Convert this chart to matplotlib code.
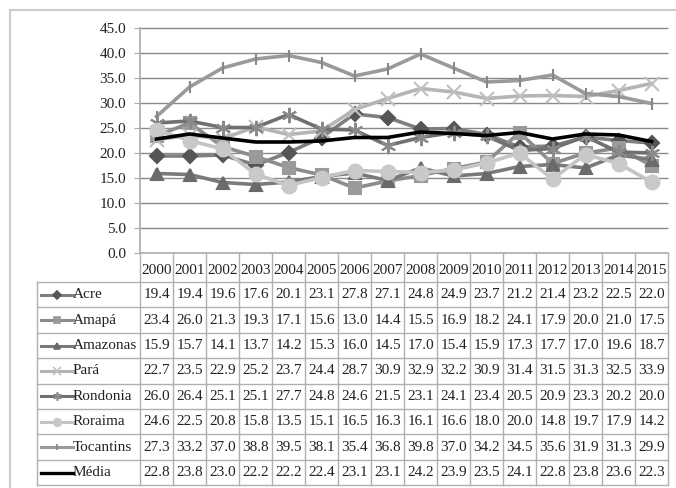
import matplotlib
matplotlib.use("Agg")
import matplotlib.pyplot as plt
from matplotlib import transforms
from matplotlib.lines import Line2D

plt.rcParams['font.family'] = ['Liberation Serif', 'DejaVu Serif']

years = ["2000", "2001", "2002", "2003", "2004", "2005", "2006", "2007",
         "2008", "2009", "2010", "2011", "2012", "2013", "2014", "2015"]

acre = [19.4, 19.4, 19.6, 17.6, 20.1, 23.1, 27.8, 27.1, 24.8, 24.9, 23.7, 21.2, 21.4, 23.2, 22.5, 22.0]
amapa = [23.4, 26.0, 21.3, 19.3, 17.1, 15.6, 13.0, 14.4, 15.5, 16.9, 18.2, 24.1, 17.9, 20.0, 21.0, 17.5]
amazonas = [15.9, 15.7, 14.1, 13.7, 14.2, 15.3, 16.0, 14.5, 17.0, 15.4, 15.9, 17.3, 17.7, 17.0, 19.6, 18.7]
para = [22.7, 23.5, 22.9, 25.2, 23.7, 24.4, 28.7, 30.9, 32.9, 32.2, 30.9, 31.4, 31.5, 31.3, 32.5, 33.9]
rondonia = [26.0, 26.4, 25.1, 25.1, 27.7, 24.8, 24.6, 21.5, 23.1, 24.1, 23.4, 20.5, 20.9, 23.3, 20.2, 20.0]
roraima = [24.6, 22.5, 20.8, 15.8, 13.5, 15.1, 16.5, 16.3, 16.1, 16.6, 18.0, 20.0, 14.8, 19.7, 17.9, 14.2]
tocantins = [27.3, 33.2, 37.0, 38.8, 39.5, 38.1, 35.4, 36.8, 39.8, 37.0, 34.2, 34.5, 35.6, 31.9, 31.3, 29.9]
media = [22.8, 23.8, 23.0, 22.2, 22.2, 22.4, 23.1, 23.1, 24.2, 23.9, 23.5, 24.1, 22.8, 23.8, 23.6, 22.3]

y_ticks = [0, 5, 10, 15, 20, 25, 30, 35, 40, 45]

series_names = ["Acre", "Amapá", "Amazonas", "Pará", "Rondonia", "Roraima", "Tocantins", "Média"]
series_values = [acre, amapa, amazonas, para, rondonia, roraima, tocantins, media]

# style: (line color, marker, marker face, marker edge, marker size, line width)
styles = [
    ("#7f7f7f", "D", "#555555", "#555555", 7, 2.6),
    ("#8c8c8c", "s", "#9a9a9a", "#9a9a9a", 9, 2.6),
    ("#7a7a7a", "^", "#6a6a6a", "#6a6a6a", 9, 2.6),
    ("#b5b5b5", "x", "#c0c0c0", "#c0c0c0", 10, 2.6),
    ("#707070", (6, 2, 0), "#8a8a8a", "#8a8a8a", 11, 2.6),
    ("#c4c4c4", "o", "#c9c9c9", "#c9c9c9", 10, 2.6),
    ("#9a9a9a", "|", "#888888", "#888888", 9, 2.6),
    ("#000000", None, "#000000", "#000000", 0, 2.6),
]

W, H = 676, 488
fig = plt.figure(figsize=(W / 100, H / 100), dpi=100)

def fx(px):
    return px / W

def fy(py):
    return 1 - py / H

FS = 11
ax_left, ax_right, ax_top, ax_bottom = 140, 668, 28, 253
ax = fig.add_axes([fx(ax_left), fy(ax_bottom), fx(ax_right - ax_left), (ax_bottom - ax_top) / H])

x = list(range(len(years)))
for name, vals, st in zip(series_names, series_values, styles):
    lc, mk, mf, me, ms, lw = st
    ax.plot(x, vals, color=lc, lw=lw, marker=mk, markersize=ms,
            markerfacecolor=mf, markeredgecolor=me, markeredgewidth=1.5,
            zorder=3 if name != "Média" else 4, clip_on=False)

ax.set_xlim(-0.5, len(years) - 0.5)
ax.set_ylim(0, 45)
ax.set_yticks(y_ticks)
ax.set_yticklabels([f"{v:.1f}" for v in y_ticks], fontsize=FS, color="#222222")
ax.set_xticks([])
ax.hlines(y_ticks[1:], -0.5, len(years) - 0.5, colors="#8a8a8a", lw=1, zorder=1, clip_on=False)
for s in ["top", "right", "bottom"]:
    ax.spines[s].set_visible(False)
ax.spines["left"].set_color("#aaaaaa")
ax.spines["left"].set_linewidth(1.2)
ax.tick_params(axis="y", length=4, color="#aaaaaa", pad=6)

# outer chart border
fig.add_artist(plt.Rectangle((fx(10), fy(490)), fx(700), (490 - 10) / H, transform=fig.transFigure,
                             fill=False, edgecolor="#cccccc", lw=1.5))

# data table
trans = transforms.blended_transform_factory(ax.transData, fig.transFigure)
tcolor = "#b0b0b0"
header_y = 270
row_top = 282
row_h = 25.4
n_rows = len(series_names)
table_bottom = row_top + row_h * n_rows
tab_left = 37

fig.add_artist(Line2D([-0.5, len(years) - 0.5], [fy(ax_bottom), fy(ax_bottom)], transform=trans, color="#aaaaaa", lw=1.2))
for i in range(len(years) + 1):
    fig.add_artist(Line2D([i - 0.5, i - 0.5], [fy(ax_bottom), fy(table_bottom)], transform=trans, color=tcolor, lw=1))
fig.add_artist(Line2D([fx(tab_left), fx(tab_left)], [fy(row_top), fy(table_bottom)], transform=fig.transFigure, color=tcolor, lw=1))
for r in range(n_rows + 1):
    yy = fy(row_top + r * row_h)
    fig.add_artist(Line2D([fx(tab_left), fx(ax_right)], [yy, yy], transform=fig.transFigure, color=tcolor, lw=1))

for i, yr in enumerate(years):
    fig.text(i, fy(header_y), yr, transform=trans, ha="center", va="center", fontsize=FS, color="#222222")

for r, (name, vals, st) in enumerate(zip(series_names, series_values, styles)):
    yc = fy(row_top + (r + 0.5) * row_h)
    lc, mk, mf, me, ms, lw = st
    fig.add_artist(Line2D([fx(41), fx(73)], [yc, yc], transform=fig.transFigure, color=lc, lw=2.2 if name != "Média" else 2.4))
    if mk is not None:
        fig.add_artist(Line2D([fx(57)], [yc], transform=fig.transFigure, marker=mk, markersize=ms * 0.55,
                              markerfacecolor=mf, markeredgecolor=me, markeredgewidth=1.2, lw=0))
    fig.text(fx(73), yc, name, ha="left", va="center", fontsize=FS, color="#222222")
    for i, v in enumerate(vals):
        fig.text(i, yc, f"{v:.1f}", transform=trans, ha="center", va="center", fontsize=FS, color="#222222")

fig.savefig("out.png", dpi=100)
